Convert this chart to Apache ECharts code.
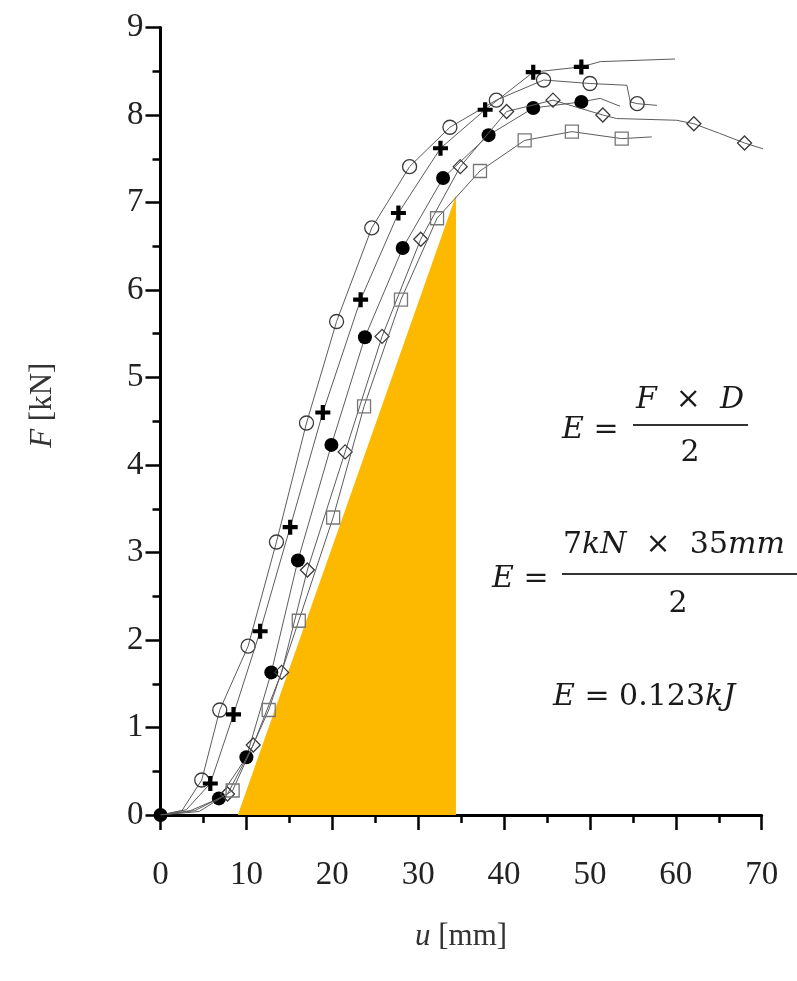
<!DOCTYPE html>
<html>
<head>
<meta charset="utf-8">
<script src="https://cdn.jsdelivr.net/npm/echarts@6/dist/echarts.min.js"></script>
<style>
html,body{margin:0;padding:0;background:#fff;}
#chart{width:797px;height:981px;}
</style>
</head>
<body>
<div id="chart"></div>
<script>
// x tick labels (mm) and y tick labels (kN)
const xTicks = [0, 10, 20, 30, 40, 50, 60, 70];
const yTicks = [0, 1, 2, 3, 4, 5, 6, 7, 8, 9];

// Each point: [u (mm), F (kN), marker shown (1) or line vertex only (0)]
const openCircle = [[0,0,0],[2.5,0.05,0],[4.8,0.4,1],[6.9,1.2,1],[10.2,1.93,1],[13.5,3.12,1],[17.0,4.48,1],[20.5,5.64,1],[24.6,6.71,1],[29.0,7.41,1],[33.7,7.86,1],[39.1,8.17,1],[44.6,8.4,1],[50.0,8.36,1],[54.3,8.34,0],[54.7,8.15,0],[55.5,8.13,1],[57.8,8.11,0]];
const plusMark = [[0,0,0],[3.0,0.06,0],[5.8,0.36,1],[8.5,1.15,1],[11.6,2.1,1],[15.1,3.29,1],[18.9,4.6,1],[23.3,5.89,1],[27.7,6.88,1],[32.6,7.62,1],[37.8,8.06,1],[43.4,8.49,1],[49.0,8.55,1],[51.2,8.61,0],[59.9,8.64,0]];
const filledCircle = [[0,0,1],[3.5,0.05,0],[6.8,0.19,1],[10.0,0.66,1],[12.9,1.63,1],[16.0,2.91,1],[19.9,4.23,1],[23.8,5.46,1],[28.2,6.48,1],[32.9,7.28,1],[38.2,7.77,1],[43.4,8.08,1],[49.0,8.15,1],[51.2,8.19,0],[53.5,8.1,0]];
const openDiamond = [[0,0,0],[4.0,0.05,0],[7.8,0.24,1],[10.8,0.8,1],[14.1,1.63,1],[17.1,2.8,1],[21.5,4.15,1],[25.8,5.47,1],[30.3,6.58,1],[34.9,7.41,1],[40.3,8.04,1],[45.7,8.17,1],[51.5,8.0,1],[53.1,7.96,0],[60.1,7.94,0],[62.1,7.9,1],[65.1,7.79,0],[68.0,7.68,1],[70.6,7.6,0]];
const openSquare = [[0,0,0],[4.5,0.04,0],[8.4,0.28,1],[12.6,1.2,1],[16.1,2.22,1],[20.1,3.4,1],[23.7,4.67,1],[28.0,5.89,1],[32.2,6.82,1],[37.2,7.36,1],[42.4,7.71,1],[47.9,7.81,1],[53.7,7.73,1],[57.2,7.75,0]];

// Energy triangle (u, F)
const triangleU = [9.0, 34.4];
const triangleF = [0, 7.08];

const chart = echarts.init(document.getElementById('chart'), null, {renderer: 'canvas'});

const plusPath = 'path://M-1.4,-5H1.4V-1.4H5V1.4H1.4V5H-1.4V1.4H-5V-1.4H-1.4Z';

const styles = [
  {data: openCircle, symbol: 'circle', size: 14, fill: 'rgba(255,255,255,0)', stroke: '#3a3a3a', bw: 1.3},
  {data: plusMark, symbol: plusPath, size: 15, fill: '#000', stroke: '#000', bw: 0},
  {data: filledCircle, symbol: 'circle', size: 14, fill: '#000', stroke: '#000', bw: 0},
  {data: openDiamond, symbol: 'diamond', size: 14, fill: 'rgba(255,255,255,0)', stroke: '#3a3a3a', bw: 1.3},
  {data: openSquare, symbol: 'rect', size: 13, fill: 'rgba(255,255,255,0)', stroke: '#777', bw: 1.3}
];

const curveSeries = styles.map(function (s, i) {
  return {
    type: 'line',
    z: 5 + i,
    silent: true,
    showSymbol: true,
    symbol: s.symbol,
    symbolSize: s.size,
    lineStyle: {color: '#5c5c5c', width: 1},
    itemStyle: {color: s.fill, borderColor: s.stroke, borderWidth: s.bw},
    data: s.data.map(function (p) {
      return p[2] ? {value: [p[0], p[1]]} : {value: [p[0], p[1]], symbol: 'none'};
    })
  };
});

const triangleSeries = {
  type: 'line',
  z: 1,
  silent: true,
  showSymbol: false,
  symbol: 'none',
  lineStyle: {width: 0},
  areaStyle: {color: '#FCB900', opacity: 1, origin: 'start'},
  data: triangleU.map(function (u, i) { return [u, triangleF[i]]; })
};

const labelFont = '"Liberation Serif", "Times New Roman", Times, serif';
const eqFont = '"DejaVu Serif", serif';
const eqSize = 30;
const eqRich = {
  i: {fontFamily: eqFont, fontStyle: 'italic', fontSize: eqSize, fill: '#1a1a1a', color: '#1a1a1a'},
  n: {fontFamily: eqFont, fontStyle: 'normal', fontSize: eqSize, fill: '#1a1a1a', color: '#1a1a1a'}
};

function eqText(x, y, text, align) {
  return {
    type: 'text', x: x, y: y, silent: true,
    style: {text: text, rich: eqRich, fontFamily: eqFont, fontSize: eqSize, fill: '#1a1a1a',
            align: align || 'left', verticalAlign: 'middle'}
  };
}
function bar(x1, x2, y) {
  return {type: 'line', silent: true, shape: {x1: x1, y1: y, x2: x2, y2: y},
          style: {stroke: '#333', lineWidth: 2}};
}

const option = {
  animation: false,
  backgroundColor: '#fff',
  grid: {left: 160.5, right: 35.3, top: 27.5, bottom: 166, containLabel: false},
  xAxis: {
    type: 'value', min: xTicks[0], max: xTicks[xTicks.length - 1], interval: 10,
    name: '{i|u} [mm]', nameLocation: 'middle', nameGap: 106,
    nameTextStyle: {fontFamily: labelFont, fontSize: 31, color: '#333',
      rich: {i: {fontFamily: labelFont, fontStyle: 'italic', fontSize: 31, color: '#333'}}},
    axisLine: {show: true, lineStyle: {color: '#000', width: 3}},
    axisTick: {show: true, inside: false, length: 15, lineStyle: {color: '#000', width: 2.5}},
    minorTick: {show: true, splitNumber: 2, length: 8, lineStyle: {color: '#000', width: 2.5}},
    axisLabel: {fontFamily: labelFont, fontSize: 33, color: '#222', margin: 44,
      formatter: function (v) { return xTicks.indexOf(v) >= 0 ? String(v) : ''; }},
    splitLine: {show: false}
  },
  yAxis: {
    type: 'value', min: yTicks[0], max: yTicks[yTicks.length - 1], interval: 1,
    name: '{i|F} [kN]', nameLocation: 'middle', nameGap: 102, nameRotate: 90,
    nameTextStyle: {fontFamily: labelFont, fontSize: 31, color: '#333', padding: [0, 0, 0, 32],
      rich: {i: {fontFamily: labelFont, fontStyle: 'italic', fontSize: 31, color: '#333'}}},
    axisLine: {show: true, lineStyle: {color: '#000', width: 3}},
    axisTick: {show: true, inside: false, length: 15, lineStyle: {color: '#000', width: 2.5}},
    minorTick: {show: true, splitNumber: 2, length: 8, lineStyle: {color: '#000', width: 2.5}},
    axisLabel: {fontFamily: labelFont, fontSize: 33, color: '#222', margin: 17,
      formatter: function (v) { return yTicks.indexOf(v) >= 0 ? String(v) : ''; }},
    splitLine: {show: false}
  },
  series: [triangleSeries].concat(curveSeries),
  graphic: [
    // E = F x D / 2
    eqText(562, 430, '{i|E} {n|=}'),
    eqText(690, 400, '{i|F}{n|  ×  }{i|D}', 'center'),
    bar(633, 748, 425),
    eqText(690, 453, '{n|2}', 'center'),
    // E = 7kN x 35mm / 2
    eqText(492, 579, '{i|E} {n|=}'),
    eqText(563, 545, '{n|7}{i|kN}{n|  ×  35}{i|mm}'),
    bar(562, 797, 574),
    eqText(678, 604, '{n|2}', 'center'),
    // E = 0.123 kJ
    eqText(553, 697, '{i|E} {n|= 0.123}{i|kJ}')
  ]
};

chart.setOption(option);
</script>
</body>
</html>
